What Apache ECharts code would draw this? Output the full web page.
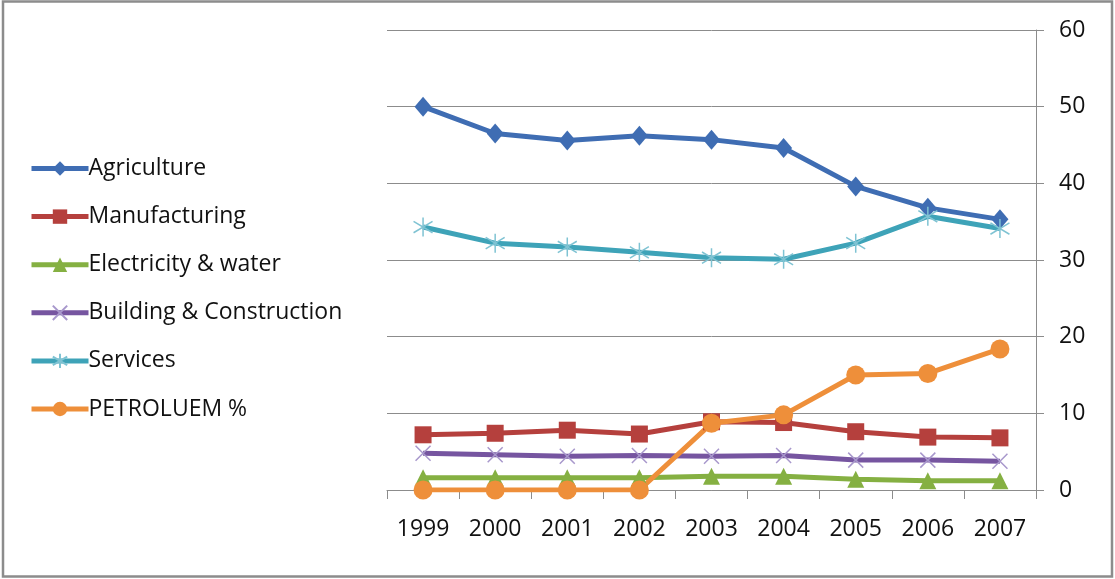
<!DOCTYPE html>
<html>
<head>
<meta charset="utf-8">
<script src="https://cdn.jsdelivr.net/npm/echarts@6/dist/echarts.min.js"></script>
<style>
html,body{margin:0;padding:0;background:#fff;}
#chart{width:1115px;height:579px;}
</style>
</head>
<body>
<div id="chart"></div>
<script>
const years = ['1999','2000','2001','2002','2003','2004','2005','2006','2007'];
const yTicks = [0,10,20,30,40,50,60];
const agriculture = [50.0,46.5,45.6,46.2,45.7,44.6,39.6,36.8,35.3];
const manufacturing = [7.2,7.4,7.8,7.3,8.9,8.8,7.6,6.9,6.8];
const electricity = [1.6,1.6,1.6,1.6,1.8,1.8,1.4,1.2,1.2];
const building = [4.8,4.6,4.4,4.5,4.4,4.5,3.9,3.9,3.75];
const services = [34.3,32.2,31.7,31.0,30.3,30.1,32.2,35.7,34.1];
const petroleum = [0,0,0,0,8.7,9.8,15.0,15.2,18.4];

const FONT = 'Open Sans';
const chart = echarts.init(document.getElementById('chart'));

function mk(name, data, color, symbol, size, fill, stroke, bw) {
  return {
    name: name, type: 'line', data: data,
    symbol: symbol, symbolSize: size,
    lineStyle: {color: color, width: 5},
    itemStyle: {color: fill, borderColor: stroke, borderWidth: bw},
    emphasis: {disabled: true},
    animation: false
  };
}

chart.setOption({
  animation: false,
  backgroundColor: '#ffffff',
  graphic: [{
    type: 'rect', shape: {x: 3, y: 1.5, width: 1109, height: 575},
    style: {fill: 'none', stroke: '#8c8c8c', lineWidth: 2.5}, silent: true
  }],
  grid: {left: 387, right: 79, top: 30, bottom: 89, containLabel: false},
  legend: {
    orient: 'vertical', left: 29, top: 157, padding: 0,
    itemWidth: 57, itemHeight: 18, itemGap: 25.1,
    lineStyle: {width: 5},
    textStyle: {fontFamily: FONT, fontSize: 23, color: '#111111', padding: [0,0,0,-5]},
    data: ['Agriculture','Manufacturing','Electricity & water','Building & Construction','Services','PETROLUEM %']
  },
  xAxis: {
    type: 'category', data: years, boundaryGap: true,
    axisLine: {show: true, lineStyle: {color: '#8c8c8c', width: 1}},
    axisTick: {show: true, length: 9, lineStyle: {color: '#8c8c8c'}},
    axisLabel: {fontFamily: FONT, fontSize: 23, color: '#111111', margin: 28}
  },
  yAxis: {
    type: 'value', position: 'right', min: 0, max: 60, interval: 10,
    axisLine: {show: true, lineStyle: {color: '#8c8c8c', width: 1}},
    axisTick: {show: true, length: 8, lineStyle: {color: '#8c8c8c'}},
    splitLine: {show: true, lineStyle: {color: '#8c8c8c', width: 1}},
    axisLabel: {fontFamily: FONT, fontSize: 23, color: '#111111', margin: 23,
      formatter: function(v){ return yTicks.indexOf(v) >= 0 ? String(v) : ''; }}
  },
  series: [
    mk('Agriculture', agriculture, '#3f6db3', 'diamond', [17,20], '#3f6db3', '#3f6db3', 0),
    mk('Manufacturing', manufacturing, '#b5403d', 'rect', 17, '#b5403d', '#b5403d', 0),
    mk('Electricity & water', electricity, '#85b042', 'triangle', 17, '#85b042', '#85b042', 0),
    mk('Building & Construction', building, '#7655a0', 'path://M0,0L10,10M0,10L10,0', 15, 'none', '#a898cc', 1.5),
    mk('Services', services, '#3ea3b8', 'path://M5,0L5,10M0,2L10,8M0,8L10,2', 19, 'none', '#7fc3d3', 1.5),
    mk('PETROLUEM %', petroleum, '#ee8f3a', 'circle', 19, '#ee8f3a', '#ee8f3a', 0)
  ]
});
</script>
</body>
</html>
